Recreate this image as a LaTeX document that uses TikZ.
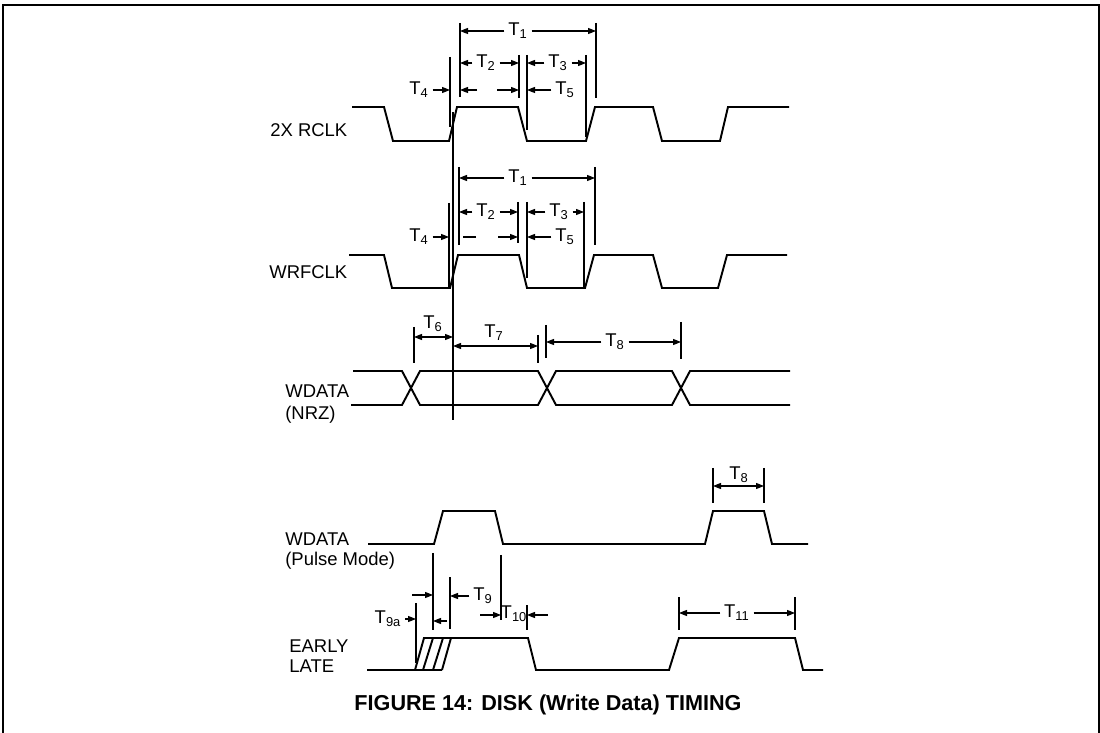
\documentclass[tikz,border=0pt]{standalone}
\usepackage{fontspec}
\setmainfont{Liberation Sans}
\usetikzlibrary{arrows.meta}
\newcommand{\Tn}[1]{T\textsubscript{#1}}

\begin{document}
\begin{tikzpicture}[x=0.02cm, y=-0.02cm,
    >={Stealth[length=1.6mm, width=1.2mm, inset=0pt]},
    wave/.style={line width=1.1pt, line join=miter},
    ext/.style={line width=0.6pt},
    dim/.style={line width=0.6pt, ->},
    dimb/.style={line width=0.6pt, <->},
    tlab/.style={font=\fontsize{10.5}{12}\selectfont, inner sep=2pt},
    sig/.style={font=\fontsize{10.5}{12}\selectfont, anchor=west, align=left, inner sep=0pt}
  ]
    \useasboundingbox (0,0) rectangle (1100,733);
    \draw[line width=1.1pt] (3,733) -- (3,5) -- (1099,5) -- (1099,733);

    % signal names
    \node[sig] (rclk) at (270,130) {2X RCLK};
    \node[sig] (wrfclk) at (269,272) {WRFCLK};
    \node[sig, font=\fontsize{10.5}{12.5}\selectfont] (nrz) at (285,404) {WDATA\\(NRZ)};
    \node[sig, font=\fontsize{10.5}{11}\selectfont] (pulse) at (285,551) {WDATA\\(Pulse Mode)};
    \node[sig, font=\fontsize{10.5}{11}\selectfont] (early) at (289,656) {EARLY\\LATE};

    % waveforms
    \draw[wave] (352,107) -- (384,107) -- (393,141) -- (449,141) -- (457,107) -- (518,107)
      -- (527,141) -- (586,141) -- (595,107) -- (653,107) -- (662,141) -- (720,141)
      -- (728,107) -- (789,107);
    \draw[wave] (349,255) -- (384,255) -- (392,288) -- (450,288) -- (458,255) -- (519,255)
      -- (527,288) -- (585,288) -- (594,255) -- (653,255) -- (662,288) -- (718,288)
      -- (727,255) -- (787,255);
    \draw[wave] (353,371) -- (402,371) -- (420,405) -- (538,405) -- (556,371) -- (672,371)
      -- (690,405) -- (790,405);
    \draw[wave] (351,405) -- (402,405) -- (420,371) -- (538,371) -- (556,405) -- (672,405)
      -- (690,371) -- (790,371);
    \draw[wave] (368,544) -- (434,544) -- (443,511) -- (495,511) -- (503,544) -- (705,544)
      -- (713,511) -- (764,511) -- (772,544) -- (808,544);
    \draw[wave] (367,670) -- (415,670) -- (424,638) -- (528,638) -- (536,670) -- (669,670)
      -- (679,638) -- (795,638) -- (803,670) -- (823,670);
    \draw[wave] (415,670) -- (442,670);
    \draw[wave] (423,670) -- (433,638);
    \draw[wave] (433,670) -- (443,638);
    \draw[wave] (442,670) -- (451,638);

    % 2X RCLK timing
    \draw[ext] (450,57) coordinate (a4) -- (450,127);
    \draw[ext] (453,112) coordinate (lng) -- (453,420);
    \draw[ext] (460,23) coordinate (a1) -- (460,97);
    \draw[ext] (596,23) coordinate (b1) -- (596,98);
    \draw[ext] (519,55) coordinate (b2) -- (519,98);
    \draw[ext] (527,55) coordinate (a3) -- (527,130);
    \draw[ext] (586,55) coordinate (b3) -- (586,137);
    \node[tlab] (t1) at (518,31) {\Tn{1}};
    \draw[dim] (t1) -- (t1 -| a1);
    \draw[dim] (t1) -- (t1 -| b1);
    \node[tlab] (t2) at (486,63) {\Tn{2}};
    \draw[dim] (t2) -- (t2 -| a1);
    \draw[dim] (t2) -- (t2 -| b2);
    \coordinate (m2l) at (477,90);
    \coordinate (m2r) at (497,90);
    \draw[dim] (m2l) -- (m2l -| a1);
    \draw[dim] (m2r) -- (m2r -| b2);
    \node[tlab] (t3) at (558,63) {\Tn{3}};
    \draw[dim] (t3) -- (t3 -| a3);
    \draw[dim] (t3) -- (t3 -| b3);
    \node[tlab] (t5) at (565,90) {\Tn{5}};
    \draw[dim] (t5) -- (t5 -| a3);
    \node[tlab] (t4) at (419,90) {\Tn{4}};
    \draw[dim] (t4) -- (t4 -| a4);

    % WRFCLK timing
    \draw[ext] (449,203) coordinate (c4) -- (449,287);
    \draw[ext] (459,167) coordinate (c1) -- (459,245);
    \draw[ext] (595,167) coordinate (d1) -- (595,245);
    \draw[ext] (518,202) coordinate (d2) -- (518,243);
    \draw[ext] (527,202) coordinate (c3) -- (527,278);
    \draw[ext] (584,202) coordinate (d3) -- (584,287);
    \node[tlab] (u1) at (518,178) {\Tn{1}};
    \draw[dim] (u1) -- (u1 -| c1);
    \draw[dim] (u1) -- (u1 -| d1);
    \node[tlab] (u2) at (486,212) {\Tn{2}};
    \draw[dim] (u2) -- (u2 -| c1);
    \draw[dim] (u2) -- (u2 -| d2);
    \coordinate (n2l) at (476,237);
    \coordinate (n2r) at (498,237);
    \draw[ext] (n2l) -- ++(-13,0);
    \draw[dim] (n2r) -- (n2r -| d2);
    \node[tlab] (u3) at (559,212) {\Tn{3}};
    \draw[dim] (u3) -- (u3 -| c3);
    \draw[dim] (u3) -- (u3 -| d3);
    \node[tlab] (u5) at (565,237) {\Tn{5}};
    \draw[dim] (u5) -- (u5 -| c3);
    \node[tlab] (u4) at (419,237) {\Tn{4}};
    \draw[dim] (u4) -- (u4 -| c4);

    % WDATA (NRZ) timing
    \draw[ext] (414,327) coordinate (e6) -- (414,363);
    \draw[ext] (538,335) coordinate (f7) -- (538,363);
    \draw[ext] (546,325) coordinate (e8) -- (546,358);
    \draw[ext] (681,322) coordinate (f8) -- (681,359);
    \coordinate (y6) at (414,337);
    \draw[dimb] (y6) -- (y6 -| lng);
    \node[tlab] (t6) at (433,324) {\Tn{6}};
    \coordinate (y7) at (453,346);
    \draw[dimb] (y7) -- (y7 -| f7);
    \node[tlab] (t7) at (494,333) {\Tn{7}};
    \node[tlab] (t8) at (615,342) {\Tn{8}};
    \draw[dim] (t8) -- (t8 -| e8);
    \draw[dim] (t8) -- (t8 -| f8);

    % WDATA (Pulse Mode) timing
    \draw[ext] (713,468) coordinate (g8) -- (713,503);
    \draw[ext] (764,468) coordinate (h8) -- (764,503);
    \coordinate (y8) at (713,486);
    \draw[dimb] (y8) -- (y8 -| h8);
    \node[tlab] (t8b) at (739,475) {\Tn{8}};

    % EARLY / LATE timing
    \draw[ext] (416,603) coordinate (k9a) -- (416,663);
    \draw[ext] (433,553) coordinate (k9) -- (433,630);
    \draw[ext] (450,577) coordinate (l9) -- (450,629);
    \draw[ext] (501,555) coordinate (k10) -- (501,620);
    \draw[ext] (527,605) coordinate (l10) -- (527,630);
    \draw[ext] (679,597) coordinate (k11) -- (679,630);
    \draw[ext] (795,597) coordinate (l11) -- (795,630);
    \node[tlab] (t9a) at (388,619) {\Tn{9a}};
    \draw[dim] (t9a) -- (t9a -| k9a);
    \coordinate (p9) at (412,595);
    \draw[dim] (p9) -- (p9 -| k9);
    \node[tlab] (t9) at (483,596) {\Tn{9}};
    \draw[dim] (t9) -- (t9 -| l9);
    \coordinate (q9) at (447,621);
    \draw[dim] (q9) -- (q9 -| k9);
    \coordinate (p10) at (480,615);
    \draw[dim] (p10) -- (p10 -| k10);
    \coordinate (q10) at (548,615);
    \draw[dim] (q10) -- (q10 -| l10);
    \node[tlab] (t10) at (514,614) {\Tn{10}};
    \node[tlab] (t11) at (737,613) {\Tn{11}};
    \draw[dim] (t11) -- (t11 -| k11);
    \draw[dim] (t11) -- (t11 -| l11);

    \node[font=\bfseries\fontsize{12.3}{14}\selectfont] (cap) at (548,705)
      {FIGURE 14: DISK (Write Data) TIMING};
  \end{tikzpicture}
\end{document}
